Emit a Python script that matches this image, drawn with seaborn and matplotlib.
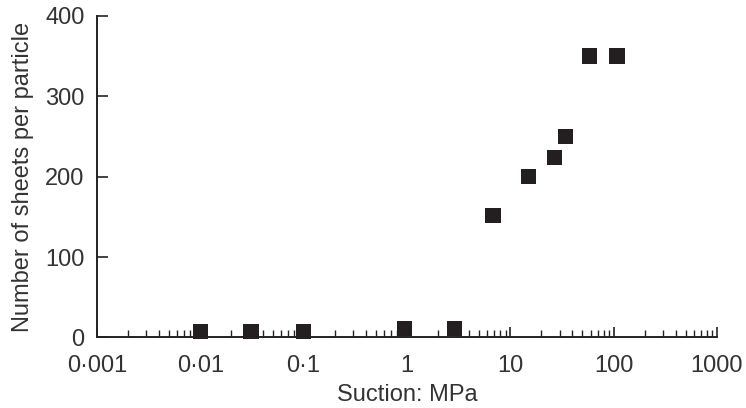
import matplotlib
matplotlib.use("Agg")
import matplotlib.pyplot as plt
import matplotlib.ticker as mticker
import seaborn as sns
import pandas as pd

# data
suction = [0.01, 0.031, 0.1, 0.95, 2.9, 6.8, 15, 27, 34, 58, 108]
sheets = [7, 7, 7, 11, 11, 152, 200, 224, 250, 350, 350]
x_ticks = [0.001, 0.01, 0.1, 1, 10, 100, 1000]
x_tick_labels = ["0\u00b7001", "0\u00b701", "0\u00b71", "1", "10", "100", "1000"]
y_ticks = [0, 100, 200, 300, 400]

df = pd.DataFrame({"suction": suction, "sheets": sheets})

sns.set_style("ticks")
plt.rcParams["font.family"] = ["Liberation Sans", "DejaVu Sans"]
text_col = "#333333"

fig = plt.figure(figsize=(7.46, 4.08), dpi=100)
ax = fig.add_axes([0.130, 0.173, 0.831, 0.788])

sns.scatterplot(data=df, x="suction", y="sheets", marker="s", s=120,
                color="#231f20", edgecolor="none", ax=ax, zorder=3, clip_on=False)

ax.set_xscale("log")
ax.set_xlim(0.001, 1000)
ax.set_ylim(0, 400)
ax.set_xticks(x_ticks)
ax.set_xticklabels(x_tick_labels)
ax.xaxis.set_minor_locator(mticker.LogLocator(base=10, subs=range(2, 10)))
ax.xaxis.set_minor_formatter(mticker.NullFormatter())
ax.set_yticks(y_ticks)

ax.tick_params(axis="both", which="major", direction="in", length=7, width=1.2,
               labelsize=17, colors="#222222", labelcolor=text_col)
ax.tick_params(axis="x", which="major", pad=13)
ax.tick_params(axis="x", which="minor", direction="in", length=5, width=1.0,
               colors="#222222")
ax.tick_params(axis="y", which="major", length=8, pad=9)

for side in ["top", "right"]:
    ax.spines[side].set_visible(False)
for side in ["left", "bottom"]:
    ax.spines[side].set_linewidth(1.4)
    ax.spines[side].set_color("#222222")

ax.set_xlabel("Suction: MPa", fontsize=17, color=text_col, labelpad=5)
ax.set_ylabel("Number of sheets per particle", fontsize=17, color=text_col, labelpad=8)

fig.savefig("out.png", dpi=100)
